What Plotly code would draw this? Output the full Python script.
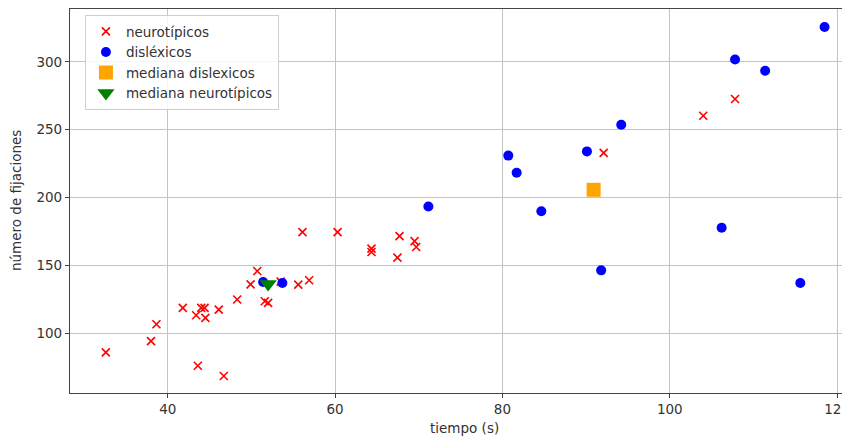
import plotly.graph_objects as go

# neurotípicos
neuro_t = [32.6, 38.0, 38.65, 41.8, 43.6, 43.4, 44.0, 44.4, 44.5, 46.1, 46.7, 48.3, 49.9, 50.7,
           51.6, 52.0, 53.5, 55.6, 56.9, 56.1, 60.3, 64.35, 64.35, 67.7, 67.45, 69.5, 69.7,
           92.1, 104.0, 107.8]
neuro_f = [85.8, 94.1, 106.6, 118.6, 76.0, 113.2, 118.6, 118.6, 111.3, 117.4, 68.4, 124.8, 136.0, 145.8,
           123.5, 122.3, 138.0, 135.8, 139.0, 174.5, 174.5, 162.3, 159.8, 171.5, 155.7, 167.9, 163.5,
           232.9, 260.3, 272.6]

# disléxicos
dis_t = [51.4, 53.7, 71.15, 80.7, 81.7, 84.65, 90.1, 91.8, 94.2, 106.2, 107.8, 111.4, 115.6, 118.5]
dis_f = [137.7, 137.0, 193.4, 230.9, 218.2, 189.9, 234.0, 146.3, 253.7, 177.7, 301.7, 293.4, 137.0, 325.7]

# medianas
med_dis_t = [90.9]
med_dis_f = [205.7]
med_neu_t = [52.0]
med_neu_f = [136.3]

x_ticks = [40, 60, 80, 100, 120]
y_ticks = [100, 150, 200, 250, 300]

FONT = "DejaVu Sans"
FS = 13.5
TXT = "#333"

fig = go.Figure()
fig.add_trace(go.Scatter(x=neuro_t, y=neuro_f, mode="markers", name="neurotípicos",
                         marker=dict(symbol="x-thin", size=8, color="red",
                                     line=dict(color="red", width=1.6))))
fig.add_trace(go.Scatter(x=dis_t, y=dis_f, mode="markers", name="disléxicos",
                         marker=dict(symbol="circle", size=10, color="blue")))
fig.add_trace(go.Scatter(x=med_dis_t, y=med_dis_f, mode="markers", name="mediana dislexicos",
                         marker=dict(symbol="square", size=14, color="orange")))
fig.add_trace(go.Scatter(x=med_neu_t, y=med_neu_f, mode="markers", name="mediana neurotípicos",
                         marker=dict(symbol="triangle-down", size=15, color="green")))

fig.update_layout(
    width=842, height=431,
    margin=dict(l=62, r=0, t=0, b=46),
    paper_bgcolor="white", plot_bgcolor="white",
    font=dict(family=FONT, size=FS, color=TXT),
    showlegend=True,
    legend=dict(x=0.0192, y=0.984, xanchor="left", yanchor="top",
                bgcolor="rgba(255,255,255,0.85)", bordercolor="#d0d0d0", borderwidth=1,
                font=dict(family=FONT, size=FS, color=TXT), tracegroupgap=0),
    xaxis=dict(range=[28.32, 121.3], tickvals=x_ticks, showgrid=True, gridcolor="#c4c4c4",
               gridwidth=1, zeroline=False, showline=True, linecolor="#444", linewidth=1.2,
               mirror=True, ticks="outside", ticklen=4, tickcolor="#444",
               ticklabeloverflow="allow",
               tickfont=dict(family=FONT, size=FS, color=TXT)),
    yaxis=dict(range=[55.9, 338.97], tickvals=y_ticks, showgrid=True, gridcolor="#c4c4c4",
               gridwidth=1, zeroline=False, showline=True, linecolor="#444", linewidth=1.2,
               mirror=False, ticks="outside", ticklen=4, tickcolor="#444",
               tickfont=dict(family=FONT, size=FS, color=TXT)),
    annotations=[
        dict(text="tiempo (s)", xref="paper", yref="paper", x=0.5077, y=0, yshift=-35,
             xanchor="center", yanchor="middle", showarrow=False,
             font=dict(family=FONT, size=FS, color=TXT)),
        dict(text="número de fijaciones", xref="paper", yref="paper", x=0, xshift=-54,
             y=0.5, textangle=-90, xanchor="center", yanchor="middle", showarrow=False,
             font=dict(family=FONT, size=FS, color=TXT)),
    ],
)

fig.write_html("out.html")
